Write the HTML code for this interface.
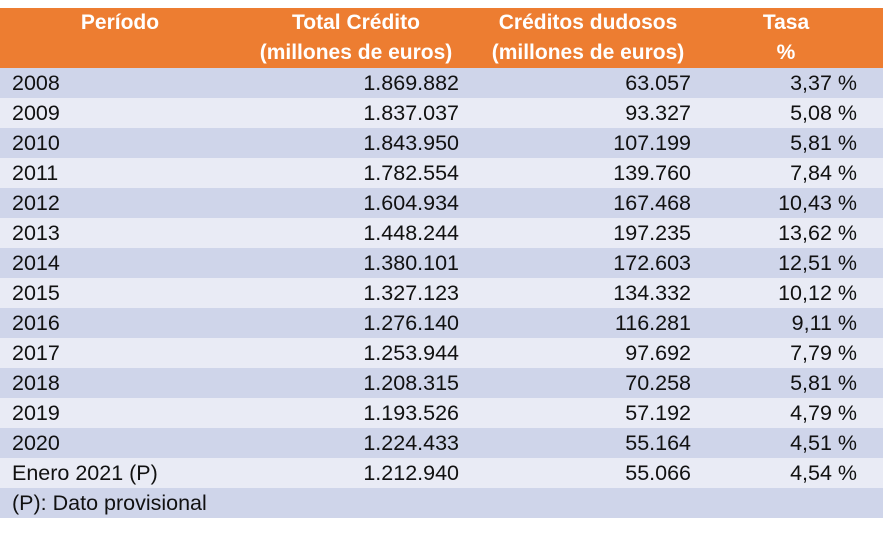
<!DOCTYPE html>
<html><head><meta charset="utf-8"><style>
body{margin:0;background:#fff;width:884px;height:535px;position:relative;font-family:"Liberation Sans",sans-serif;}
.hd{position:absolute;left:0;top:8px;width:883px;height:60px;background:#ED7D31;}
.h{position:absolute;color:#fff;font-weight:bold;font-size:21px;text-align:center;line-height:30px;white-space:nowrap;transform:translateX(-50%);top:8px;}
.r{position:absolute;left:0;width:883px;height:30px;font-size:21.5px;color:#111;}
.r span{position:absolute;top:3px;white-space:nowrap;}
.c0{left:12px}.c1{right:424px}.c2{right:192px}.c3{right:26px}
</style></head><body>
<div class="hd"></div>
<div class="h" style="left:120px">Período</div>
<div class="h" style="left:356px">Total Crédito<br>(millones de euros)</div>
<div class="h" style="left:588px">Créditos dudosos<br>(millones de euros)</div>
<div class="h" style="left:786px">Tasa<br>%</div>
<div id="rows"></div>
<script>
var d=[["2008","1.869.882","63.057","3,37 %"],["2009","1.837.037","93.327","5,08 %"],["2010","1.843.950","107.199","5,81 %"],["2011","1.782.554","139.760","7,84 %"],["2012","1.604.934","167.468","10,43 %"],["2013","1.448.244","197.235","13,62 %"],["2014","1.380.101","172.603","12,51 %"],["2015","1.327.123","134.332","10,12 %"],["2016","1.276.140","116.281","9,11 %"],["2017","1.253.944","97.692","7,79 %"],["2018","1.208.315","70.258","5,81 %"],["2019","1.193.526","57.192","4,79 %"],["2020","1.224.433","55.164","4,51 %"],["Enero 2021 (P)","1.212.940","55.066","4,54 %"],["(P): Dato provisional","","",""]];
var h="";d.forEach(function(r,i){h+='<div class="r" style="top:'+(68+30*i)+'px;background:'+(i%2?'#E9EBF5':'#CFD5EA')+'"><span class="c0">'+r[0]+'</span><span class="c1">'+r[1]+'</span><span class="c2">'+r[2]+'</span><span class="c3">'+r[3]+'</span></div>';});
document.getElementById("rows").innerHTML=h;
</script>
</body></html>
